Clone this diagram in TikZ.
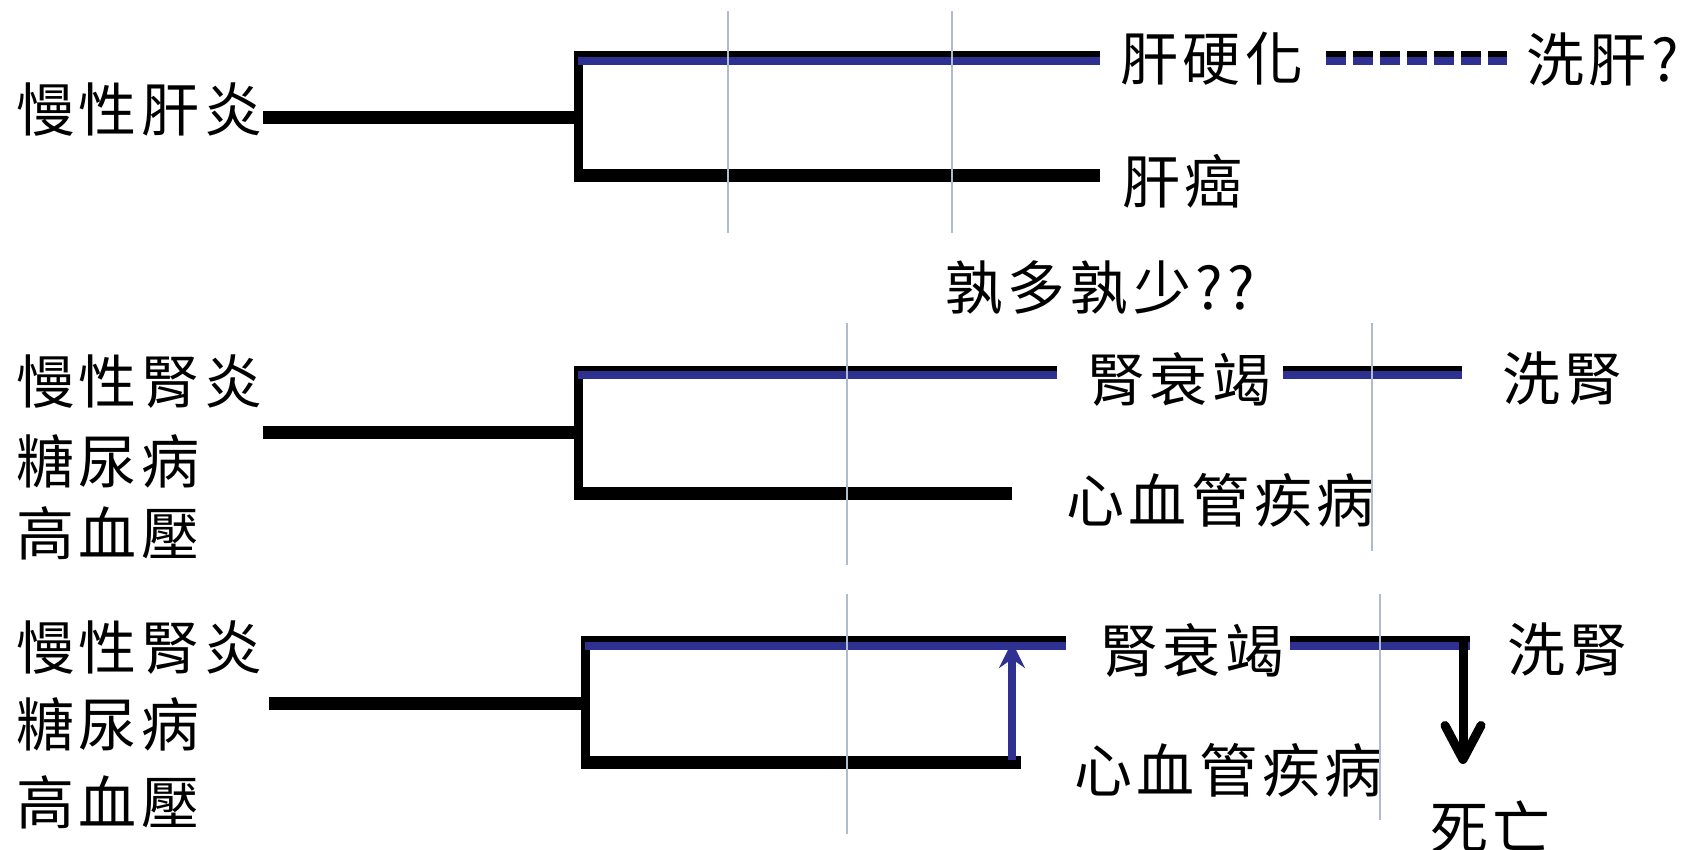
\documentclass[tikz,border=0pt]{standalone}
\usepackage{fontspec}
\setmainfont{Noto Sans CJK TC}[LetterSpace=8]
\usetikzlibrary{arrows.meta}
\definecolor{lineblue}{RGB}{46,49,146}
\definecolor{gridgray}{RGB}{176,188,204}
\tikzset{
  lbl/.style={anchor=west, inner sep=0pt, font=\fontsize{58}{60}\selectfont},
  blk/.style={line width=13pt, black},
  bvert/.style={line width=9pt, black},
  blu/.style={line width=8pt, lineblue},
  gridl/.style={line width=1.5pt, gridgray},
}
\begin{document}
\begin{tikzpicture}[x=1pt,y=-1pt]
\useasboundingbox (0,0) rectangle (1688,849);
% ---------- Panel 1 ----------
\node[lbl] (p1src) at (16,110) {慢性肝炎};
\node[lbl] (p1a) at (1120,59) {肝硬化};
\node[lbl] (p1b) at (1122,181) {肝癌};
\node[lbl] (p1c) at (1526,59) {洗肝?};
\node[lbl] (p1q) at (945,288) {孰多孰少??};
\coordinate (p1s) at (263,117);
\coordinate (p1j) at (578,117);
\coordinate (p1t0) at (578,57.5);
\coordinate (p1t1) at (1100,57.5);
\coordinate (p1b0) at (578,175);
\coordinate (p1b1) at (1100,175);
\coordinate (p1d0) at (1326,57.5);
\coordinate (p1d1) at (1507,57.5);
\draw[blk] (p1s) -- (p1j);
\draw[bvert] ([yshift=-3pt]p1t0) -- ([yshift=6pt]p1b0);
\draw[blk] ([xshift=-4pt]p1t0) -- (p1t1);
\draw[blu] ([yshift=-3pt]p1t0) -- ([yshift=-3pt]p1t1);
\draw[blk] ([xshift=-4pt]p1b0) -- (p1b1);
\draw[blk, dash pattern=on 20pt off 7pt] (p1d0) -- (p1d1);
\draw[blu, dash pattern=on 20pt off 7pt] ([yshift=-3pt]p1d0) -- ([yshift=-3pt]p1d1);
% ---------- Panel 2 ----------
\node[lbl] (p2s1) at (16,382) {慢性腎炎};
\node[lbl] (p2s2) at (16,461) {糖尿病};
\node[lbl] (p2s3) at (16,533) {高血壓};
\node[lbl] (p2a) at (1087,379) {腎衰竭};
\node[lbl] (p2b) at (1066,500) {心血管疾病};
\node[lbl] (p2c) at (1502,379) {洗腎};
\coordinate (p2s) at (263,432);
\coordinate (p2j) at (578,432);
\coordinate (p2t0) at (578,372);
\coordinate (p2t1) at (1057,372);
\coordinate (p2b0) at (578,493);
\coordinate (p2b1) at (1012,493);
\coordinate (p2d0) at (1283,372);
\coordinate (p2d1) at (1462,372);
\draw[blk] (p2s) -- (p2j);
\draw[bvert] ([yshift=-3pt]p2t0) -- ([yshift=6pt]p2b0);
\draw[blk] ([xshift=-4pt]p2t0) -- (p2t1);
\draw[blu] ([yshift=-3pt]p2t0) -- ([yshift=-3pt]p2t1);
\draw[blk] ([xshift=-4pt]p2b0) -- (p2b1);
\draw[blk] (p2d0) -- (p2d1);
\draw[blu] ([yshift=-3pt]p2d0) -- ([yshift=-3pt]p2d1);
% ---------- Panel 3 ----------
\node[lbl] (p3s1) at (16,648) {慢性腎炎};
\node[lbl] (p3s2) at (16,724) {糖尿病};
\node[lbl] (p3s3) at (16,802) {高血壓};
\node[lbl] (p3a) at (1100,650) {腎衰竭};
\node[lbl] (p3b) at (1074,770) {心血管疾病};
\node[lbl] (p3c) at (1507,650) {洗腎};
\node[lbl] (p3d) at (1430,827) {死亡};
\coordinate (p3s) at (269,703);
\coordinate (p3j) at (585,703);
\coordinate (p3t0) at (585,642.5);
\coordinate (p3t1) at (1066,642.5);
\coordinate (p3b0) at (585,762);
\coordinate (p3b1) at (1021,762);
\coordinate (p3d0) at (1290,642.5);
\coordinate (p3d1) at (1470,642.5);
\coordinate (p3up0) at (1012,760);
\coordinate (p3up1) at (1012,642);
\coordinate (p3dn0) at (1463,640);
\coordinate (p3dn1) at (1463,764);
\draw[blk] (p3s) -- (p3j);
\draw[bvert] ([yshift=-3pt]p3t0) -- ([yshift=6pt]p3b0);
\draw[blk] ([xshift=-4pt]p3t0) -- (p3t1);
\draw[blu] ([yshift=-3pt]p3t0) -- ([yshift=-3pt]p3t1);
\draw[blk] ([xshift=-4pt]p3b0) -- (p3b1);
\draw[blk] (p3d0) -- (p3d1);
\draw[blu] ([yshift=-3pt]p3d0) -- ([yshift=-3pt]p3d1);
\draw[line width=8pt, lineblue, -{Stealth[length=26pt,width=26pt,inset=9pt]}] (p3up0) -- (p3up1);
\draw[line width=9pt, black, -{Straight Barb[length=34pt,width=36pt,round]}] (p3dn0) -- (p3dn1);
% ---------- grid lines ----------
\draw[gridl] (728,11) -- (728,233);
\draw[gridl] (952,11) -- (952,233);
\draw[gridl] (847,323) -- (847,565);
\draw[gridl] (1372,323) -- (1372,551);
\draw[gridl] (847,594) -- (847,834);
\draw[gridl] (1380,594) -- (1380,820);
\end{tikzpicture}
\end{document}
